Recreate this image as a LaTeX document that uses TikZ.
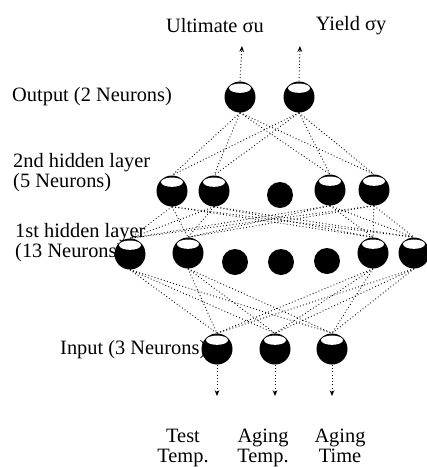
\documentclass[tikz,border=0pt]{standalone}
\usepackage{fontspec}
\setmainfont{Liberation Serif}
\usetikzlibrary{arrows.meta}
\tikzset{
  neuron/.style={circle, fill=black, inner sep=0pt, minimum size=0.93cm,
    path picture={\fill[white] ([yshift=-0.2cm]path picture bounding box.north) ellipse (0.33cm and 0.14cm);}},
  blob/.style={circle, fill=black, inner sep=0pt, minimum size=0.78cm},
  lbl/.style={inner sep=0pt, align=left},
  link/.style={dotted, line width=0.75pt},
  io/.style={dotted, line width=0.8pt, -{Stealth[length=5pt,width=4pt]}}
}

\begin{document}
\begin{tikzpicture}[x=0.03cm, y=-0.03cm, font=\fontsize{17.4}{17}\selectfont]
  \useasboundingbox (0,0) rectangle (427,467);
  % layer names
  \node[lbl, anchor=west] (lout) at (12,97) {Output (2 Neurons)};
  \node[lbl, anchor=west] (lh2) at (13,173) {2nd hidden layer\\(5 Neurons)};
  \node[lbl, anchor=west] (lh1) at (15,243) {1st hidden layer\\(13 Neurons)};
  \node[lbl, anchor=west] (lin) at (60,350) {Input (3 Neurons)};
  % outputs and inputs
  \node[inner sep=0pt] (tu) at (215,26) {Ultimate σu};
  \node[inner sep=0pt] (ty) at (351,26) {Yield σy};
  \node[lbl, align=center, anchor=north] (tt) at (183,429) {Test\\Temp.};
  \node[lbl, align=center, anchor=north] (ta) at (263,429) {Aging\\Temp.};
  \node[lbl, align=center, anchor=north] (tm) at (340,429) {Aging\\Time};
  % neurons
  \node[neuron] (o1) at (240,97) {};
  \node[neuron] (o2) at (299,97) {};
  \node[neuron] (h2a) at (172,191) {};
  \node[neuron] (h2b) at (214,191) {};
  \node[blob] (h2c) at (280,195) {};
  \node[neuron] (h2d) at (330,190) {};
  \node[neuron] (h2e) at (374,190) {};
  \node[neuron] (h1a) at (130,254) {};
  \node[neuron] (h1b) at (188,253) {};
  \node[blob] (h1c) at (235,262) {};
  \node[blob] (h1d) at (281,262) {};
  \node[blob] (h1e) at (327,261) {};
  \node[neuron] (h1f) at (373,253) {};
  \node[neuron] (h1g) at (414,253) {};
  \node[neuron] (i1) at (217,349) {};
  \node[neuron] (i2) at (275,349) {};
  \node[neuron] (i3) at (332,349) {};
  % links
  \foreach \a in {o1,o2}
    \foreach \b in {h2a,h2b,h2d,h2e}
      \draw[link] (\a.south) -- (\b.north);
  \foreach \a in {h2a,h2b,h2d,h2e}
    \foreach \b in {h1a,h1b,h1f,h1g}
      \draw[link] (\a.south) -- (\b.north);
  \foreach \a in {h1a,h1b,h1f,h1g}
    \foreach \b in {i1,i2,i3}
      \draw[link] (\a.south) -- (\b.north);
  % arrows
  \coordinate (au) at (242,46);
  \coordinate (ay) at (300,46);
  \coordinate (at) at (217,396);
  \coordinate (aa) at (275,396);
  \coordinate (am) at (332,396);
  \draw[io] (o1.north) -- (au);
  \draw[io] (o2.north) -- (ay);
  \draw[io] (i1.south) -- (at);
  \draw[io] (i2.south) -- (aa);
  \draw[io] (i3.south) -- (am);
\end{tikzpicture}
\end{document}
